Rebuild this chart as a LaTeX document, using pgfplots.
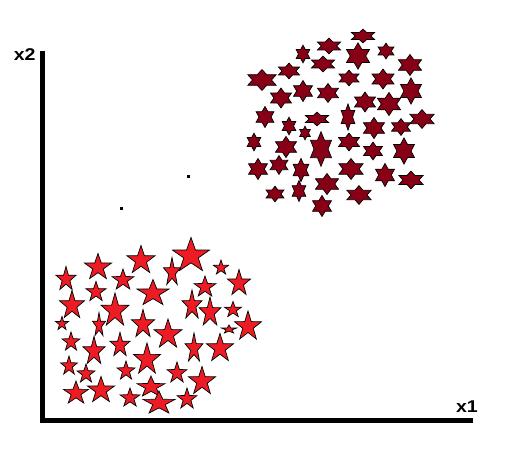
\documentclass[border=0pt]{standalone}
\usepackage{pgfplots}
\pgfplotsset{compat=1.18}
\usepackage{fontspec}
\setmainfont{Liberation Sans}
\definecolor{lowred}{RGB}{237,28,36}
\definecolor{upred}{RGB}{136,0,21}
\newcommand\sw{1}\newcommand\sh{1}
% five-point star, scaled to width \sw and height \sh (px)
\pgfdeclareplotmark{starfive}{%
  \pgftransformxscale{\sw/1.902}\pgftransformyscale{\sh/1.809}%
  \pgftransformshift{\pgfqpoint{0pt}{-0.095pt}}%
  \pgfpathmoveto{\pgfpointpolar{90}{1pt}}%
  \pgfpathlineto{\pgfpointpolar{126}{0.39pt}}%
  \pgfpathlineto{\pgfpointpolar{162}{1pt}}%
  \pgfpathlineto{\pgfpointpolar{198}{0.39pt}}%
  \pgfpathlineto{\pgfpointpolar{234}{1pt}}%
  \pgfpathlineto{\pgfpointpolar{270}{0.39pt}}%
  \pgfpathlineto{\pgfpointpolar{306}{1pt}}%
  \pgfpathlineto{\pgfpointpolar{342}{0.39pt}}%
  \pgfpathlineto{\pgfpointpolar{18}{1pt}}%
  \pgfpathlineto{\pgfpointpolar{54}{0.39pt}}%
  \pgfpathclose
  \pgfusepathqfillstroke}
% six-point star
\pgfdeclareplotmark{starsix}{%
  \pgftransformxscale{1.05*\sw/1.732}\pgftransformyscale{1.05*\sh/2}%
  \pgfpathmoveto{\pgfpointpolar{90}{1pt}}%
  \pgfpathlineto{\pgfpointpolar{120}{0.58pt}}%
  \pgfpathlineto{\pgfpointpolar{150}{1pt}}%
  \pgfpathlineto{\pgfpointpolar{180}{0.58pt}}%
  \pgfpathlineto{\pgfpointpolar{210}{1pt}}%
  \pgfpathlineto{\pgfpointpolar{240}{0.58pt}}%
  \pgfpathlineto{\pgfpointpolar{270}{1pt}}%
  \pgfpathlineto{\pgfpointpolar{300}{0.58pt}}%
  \pgfpathlineto{\pgfpointpolar{330}{1pt}}%
  \pgfpathlineto{\pgfpointpolar{0}{0.58pt}}%
  \pgfpathlineto{\pgfpointpolar{30}{1pt}}%
  \pgfpathlineto{\pgfpointpolar{60}{0.58pt}}%
  \pgfpathclose
  \pgfusepathqfillstroke}

\pgfplotstableread{
x y w h
363 36 22 13
329 46 22 15
303 54 13 17
358 56 22 25
386 51 15 15
410 65 22 20
323 64 22 15
289 71 20 15
262 80 27 20
349 78 19 15
383 79 21 19
303 91 18 20
328 93 20 18
281 98 20 19
411 91 20 25
365 102 20 19
389 104 22 22
265 117 17 20
317 119 22 13
348 117 13 25
289 126 13 17
305 133 10 13
374 128 20 20
401 127 18 16
422 119 23 18
254 142 13 17
286 147 20 20
321 149 20 33
349 142 20 17
373 151 18 17
404 151 20 25
258 169 18 20
279 165 17 18
301 170 15 22
351 169 23 20
385 175 18 22
411 180 23 17
327 184 22 20
275 194 17 15
299 191 13 20
359 195 23 18
322 206 18 20
}\tabUp

\pgfplotstableread{
x y w h
66 278 20 23
98 266 27 25
141 259 28 27
191 254 37 33
172 271 17 27
221 267 15 14
123 279 22 20
96 291 20 19
153 292 32 25
205 286 22 20
239 282 23 25
72 304 25 27
115 309 28 32
192 304 20 28
210 311 22 28
233 309 17 15
62 323 13 13
99 324 13 23
143 323 23 27
168 333 28 28
229 329 15 8
248 325 27 28
71 341 18 18
94 350 22 27
120 344 20 23
194 347 18 28
220 347 27 27
147 358 27 30
69 365 17 18
86 373 18 18
126 370 18 18
177 372 20 20
202 380 27 27
76 392 25 22
101 389 27 25
151 386 28 20
130 397 20 18
159 402 32 22
187 398 20 20
}\tabLow

\begin{document}
\begin{tikzpicture}
\begin{axis}[
  scale only axis, width=507pt, height=458pt,
  xmin=0, xmax=507, ymin=0, ymax=458, y dir=reverse,
  hide axis, clip=false,
]
\path (axis cs:0,0) rectangle (axis cs:507,458);
\draw[line width=5pt, line join=miter] (axis cs:42.5,50.7) -- (axis cs:42.5,420) -- (axis cs:472.7,420);
\addplot[only marks, mark=starsix, draw=black, fill=upred, line width=0.7pt,
  visualization depends on={\thisrow{w}\as\sw},
  visualization depends on={\thisrow{h}\as\sh}] table[x=x,y=y] {\tabUp};
\addplot[only marks, mark=starfive, draw=black, fill=lowred, line width=0.7pt,
  visualization depends on={\thisrow{w}\as\sw},
  visualization depends on={\thisrow{h}\as\sh}] table[x=x,y=y] {\tabLow};
\addplot[only marks, mark=square*, mark size=1pt, black] coordinates {(188,176) (121,208)};
\node[inner sep=0pt, xscale=1.15, font=\fontsize{17}{18}\selectfont\bfseries] at (axis cs:24.7,54.5) {x2};
\node[inner sep=0pt, xscale=1.15, font=\fontsize{17}{18}\selectfont\bfseries] at (axis cs:467,406.5) {x1};
\end{axis}
\end{tikzpicture}
\end{document}
